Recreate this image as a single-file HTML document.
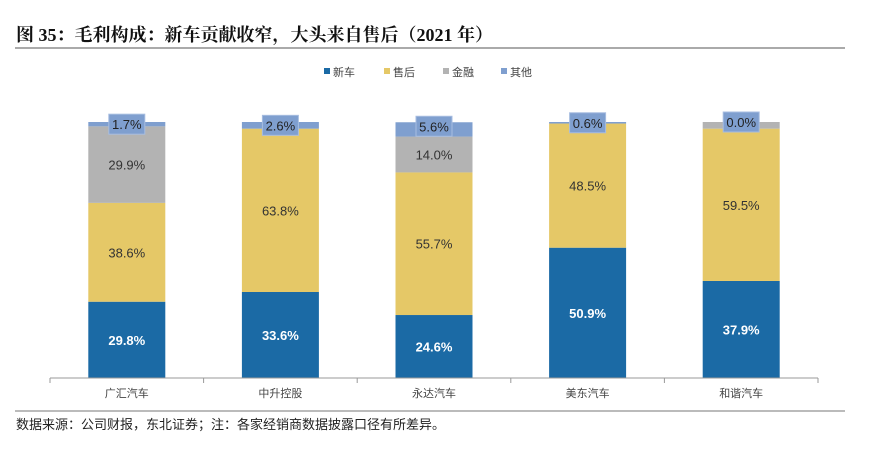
<!DOCTYPE html>
<html><head><meta charset="utf-8"><style>
body{margin:0;background:#fff;width:884px;height:444px;overflow:hidden;font-family:"Liberation Sans","Noto Sans CJK SC",sans-serif}
</style></head><body>
<svg width="884" height="444">
<text x="16" y="41" font-size="18" font-weight="bold" font-family="Liberation Serif,Noto Serif CJK SC,serif" fill="#111">图  35：毛利构成：新车贡献收窄，大头来自售后（2021 年）</text>
<line x1="15" y1="48" x2="845" y2="48" stroke="#777" stroke-width="1.2"/>
<g id="legend"></g>
<g id="bars"></g>
<g id="axis"></g>
<line x1="15" y1="411" x2="845" y2="411" stroke="#777" stroke-width="1"/>
<text x="16" y="429" font-size="13" fill="#222">数据来源：公司财报，东北证券；注：各家经销商数据披露口径有所差异。</text>
</svg>
<script>
const categories=["广汇汽车","中升控股","永达汽车","美东汽车","和谐汽车"];
const seriesNames=["新车","售后","金融","其他"];
const xinche=[29.8,33.6,24.6,50.9,37.9];
const shouhou=[38.6,63.8,55.7,48.5,59.5];
const jinrong=[29.9,0,14.0,0,2.6];
const qita=[1.7,2.6,5.6,0.6,0.0];
const colors=["#1b6aa5","#e5c867","#b3b3b3","#7f9fcf"];
const NS="http://www.w3.org/2000/svg";
const x0=50,x1=818,yBase=378,yTop=122;
const band=(x1-x0)/categories.length,bw=77;
const yS=v=>yBase-(v/100)*(yBase-yTop);
function mk(t,a,p){const e=document.createElementNS(NS,t);for(const k in a)e.setAttribute(k,a[k]);p.appendChild(e);return e;}
const series=[xinche,shouhou,jinrong,qita];
const bars=document.getElementById('bars');
categories.forEach((c,i)=>{
 const cx=x0+band*(i+0.5);let cum=0;
 series.forEach((s,k)=>{
  const v=s[i];const yt=yS(cum+v),yb=yS(cum);
  if(v>0){const r=mk('rect',{x:cx-bw/2,y:yt,width:bw,height:yb-yt,fill:colors[k]},bars);
   
   }
  if(k===2&&v<5){cum+=v;return;}
  const ym=(yt+yb)/2;
  if(k===3){
   const ly=Math.min(ym,yt+4);
   const b=mk('rect',{x:cx-18,y:ly-10,width:36,height:20,fill:"#7f9fcf",stroke:"#a7bde0"},bars);
   
   
   const t=mk('text',{x:cx,y:ly+5,'text-anchor':'middle','font-size':13,fill:"#222"},bars);t.textContent=v.toFixed(1)+'%';
   
   
  }else{
   const t=mk('text',{x:cx,y:ym+5,'text-anchor':'middle','font-size':13,'font-weight':k===0?'bold':'normal',fill:k===0?'#fff':'#333'},bars);t.textContent=v.toFixed(1)+'%';
   
   
  }
  cum+=v;
 });
});
const ax=document.getElementById('axis');
mk('line',{x1:x0,y1:yBase,x2:x1,y2:yBase,stroke:"#999"},ax);
for(let i=0;i<=categories.length;i++){mk('line',{x1:x0+band*i,y1:yBase,x2:x0+band*i,y2:yBase+5,stroke:"#999"},ax);}
categories.forEach((c,i)=>{const t=mk('text',{x:x0+band*(i+0.5),y:397,'text-anchor':'middle','font-size':11,fill:"#444"},ax);t.textContent=c;
 
 });
const lg=document.getElementById('legend');
const lx=[324,384,443,501];
seriesNames.forEach((n,k)=>{mk('rect',{x:lx[k],y:68,width:6,height:6,fill:colors[k]},lg);
 const t=mk('text',{x:lx[k]+9,y:76,'font-size':11,fill:"#444"},lg);t.textContent=n;
 
 });
</script>
</body></html>
